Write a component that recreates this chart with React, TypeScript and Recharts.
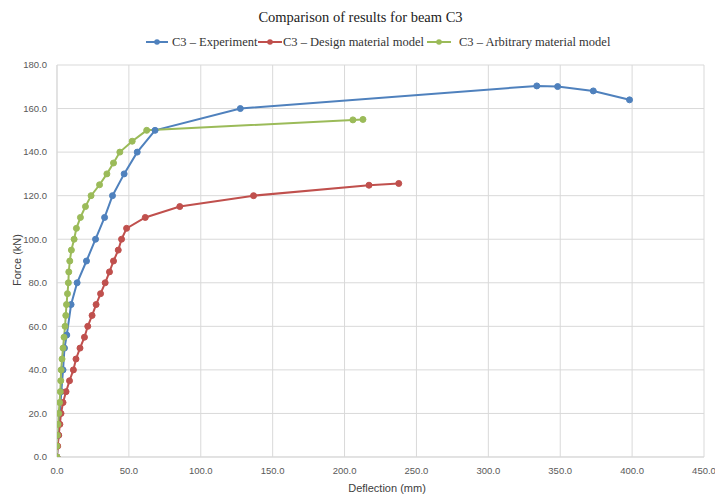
import React from 'react';
import { LineChart, Line, XAxis, YAxis, CartesianGrid } from 'recharts';

const expX = [0, 1.0, 2.0, 3.0, 4.2, 5.2, 6.8, 9.8, 14.0, 20.5, 26.8, 33.1, 38.6, 46.7, 55.8, 68.2, 127.5, 333.7, 348.2, 373.0, 398.2];
const expF = [0, 10, 20, 30, 40, 50, 56, 70, 80, 90, 100, 110, 120, 130, 140, 150, 160, 170.4, 170.1, 168.1, 164.0];

const desX = [0, 0.5, 1.2, 2.0, 2.8, 4.2, 6.3, 8.7, 11.4, 13.2, 16.0, 19.1, 21.4, 24.4, 27.2, 30.3, 33.5, 36.5, 39.3, 42.6, 44.9, 48.4, 61.4, 85.4, 136.7, 217.0, 237.7];
const desF = [0, 5, 10, 15, 20, 25, 30, 35, 40, 45, 50, 55, 60, 65, 70, 75, 80, 85, 90, 95, 100, 105, 110, 115, 120, 124.8, 125.6];

const arbX = [0, 0, 0.3, 0.7, 1.2, 1.8, 2.3, 2.6, 2.9, 3.5, 4.2, 4.9, 5.6, 6.1, 6.6, 7.3, 7.9, 8.2, 8.9, 10.0, 11.9, 13.5, 16.3, 19.8, 23.7, 29.6, 34.7, 39.3, 43.7, 52.3, 62.4, 205.8, 212.8];
const arbF = [0, 5, 10, 15, 20, 25, 30, 35, 40, 45, 50, 55, 60, 65, 70, 75, 80, 85, 90, 95, 100, 105, 110, 115, 120, 125, 130, 135, 140, 145, 150, 154.8, 155];

const xTicks = [0, 50, 100, 150, 200, 250, 300, 350, 400, 450];
const yTicks = [0, 20, 40, 60, 80, 100, 120, 140, 160, 180];

const seriesNames = ['C3 – Experiment', 'C3 – Design material model', 'C3 – Arbitrary material model'];
const colors = ['#4f81bd', '#c0504d', '#9bbb59'];

const zip = (xs: number[], ys: number[]) => xs.map((x, i) => ({ x, y: ys[i] }));
const expData = zip(expX, expF);
const desData = zip(desX, desF);
const arbData = zip(arbX, arbF);

const serif = '"Liberation Serif", "Times New Roman", serif';
const sans = '"Liberation Sans", Arial, sans-serif';

const LegendItem = ({ color, name, left, lineW, textLeft }: any) => (
  <div style={{ position: 'absolute', left, top: 34, height: 16, display: 'flex', alignItems: 'center' }}>
    <svg width={lineW} height={10} style={{ display: 'block' }}>
      <line x1={0} y1={5} x2={lineW} y2={5} stroke={color} strokeWidth={2} />
      <circle cx={lineW / 2} cy={5} r={2.8} fill={color} />
    </svg>
    <span style={{ marginLeft: textLeft, fontFamily: serif, fontSize: 12.5, color: '#333', whiteSpace: 'nowrap' }}>{name}</span>
  </div>
);

export default function App() {
  const fmt = (v: number) => v.toFixed(1);
  return (
    <div style={{ position: 'absolute', left: 0, top: 0, width: 715, height: 498, background: '#fff' }}>
      <div style={{ position: 'absolute', left: 0, width: 721, top: 9, textAlign: 'center', fontFamily: serif, fontSize: 14.5, color: '#222' }}>
        Comparison of results for beam C3
      </div>
      <LegendItem color={colors[0]} name={seriesNames[0]} left={146} lineW={22} textLeft={4} />
      <LegendItem color={colors[1]} name={seriesNames[1]} left={258} lineW={24} textLeft={1} />
      <LegendItem color={colors[2]} name={seriesNames[2]} left={427} lineW={24} textLeft={8} />
      <LineChart width={715} height={498} margin={{ top: 65, right: 11, bottom: 0, left: 0 }}>
        <CartesianGrid stroke="#d9d9d9" strokeWidth={1} />
        <XAxis
          type="number"
          dataKey="x"
          domain={[0, 450]}
          ticks={xTicks}
          tickFormatter={fmt}
          height={41}
          tickLine={false}
          tickSize={0}
          tickMargin={10}
          axisLine={{ stroke: '#d9d9d9' }}
          tick={{ fontFamily: sans, fontSize: 9.5, fill: '#595959' }}
          allowDataOverflow
        />
        <YAxis
          type="number"
          dataKey="y"
          domain={[0, 180]}
          ticks={yTicks}
          tickFormatter={fmt}
          width={57}
          tickLine={false}
          tickSize={0}
          tickMargin={10}
          axisLine={{ stroke: '#d9d9d9' }}
          tick={{ fontFamily: sans, fontSize: 9.5, fill: '#595959' }}
          allowDataOverflow
        />
        <Line data={expData} dataKey="y" name={seriesNames[0]} stroke={colors[0]} strokeWidth={2} dot={{ r: 3, fill: colors[0], stroke: colors[0], strokeWidth: 1 }} isAnimationActive={false} />
        <Line data={desData} dataKey="y" name={seriesNames[1]} stroke={colors[1]} strokeWidth={2} dot={{ r: 3, fill: colors[1], stroke: colors[1], strokeWidth: 1 }} isAnimationActive={false} />
        <Line data={arbData} dataKey="y" name={seriesNames[2]} stroke={colors[2]} strokeWidth={2} dot={{ r: 3, fill: colors[2], stroke: colors[2], strokeWidth: 1 }} isAnimationActive={false} />
      </LineChart>
      <div style={{ position: 'absolute', left: 387, top: 482, transform: 'translateX(-50%)', fontFamily: sans, fontSize: 11, color: '#404040', whiteSpace: 'nowrap' }}>
        Deflection (mm)
      </div>
      <div style={{ position: 'absolute', left: 17, top: 260, transform: 'translate(-50%, -50%) rotate(-90deg)', fontFamily: sans, fontSize: 11, color: '#404040', whiteSpace: 'nowrap' }}>
        Force (kN)
      </div>
    </div>
  );
}
